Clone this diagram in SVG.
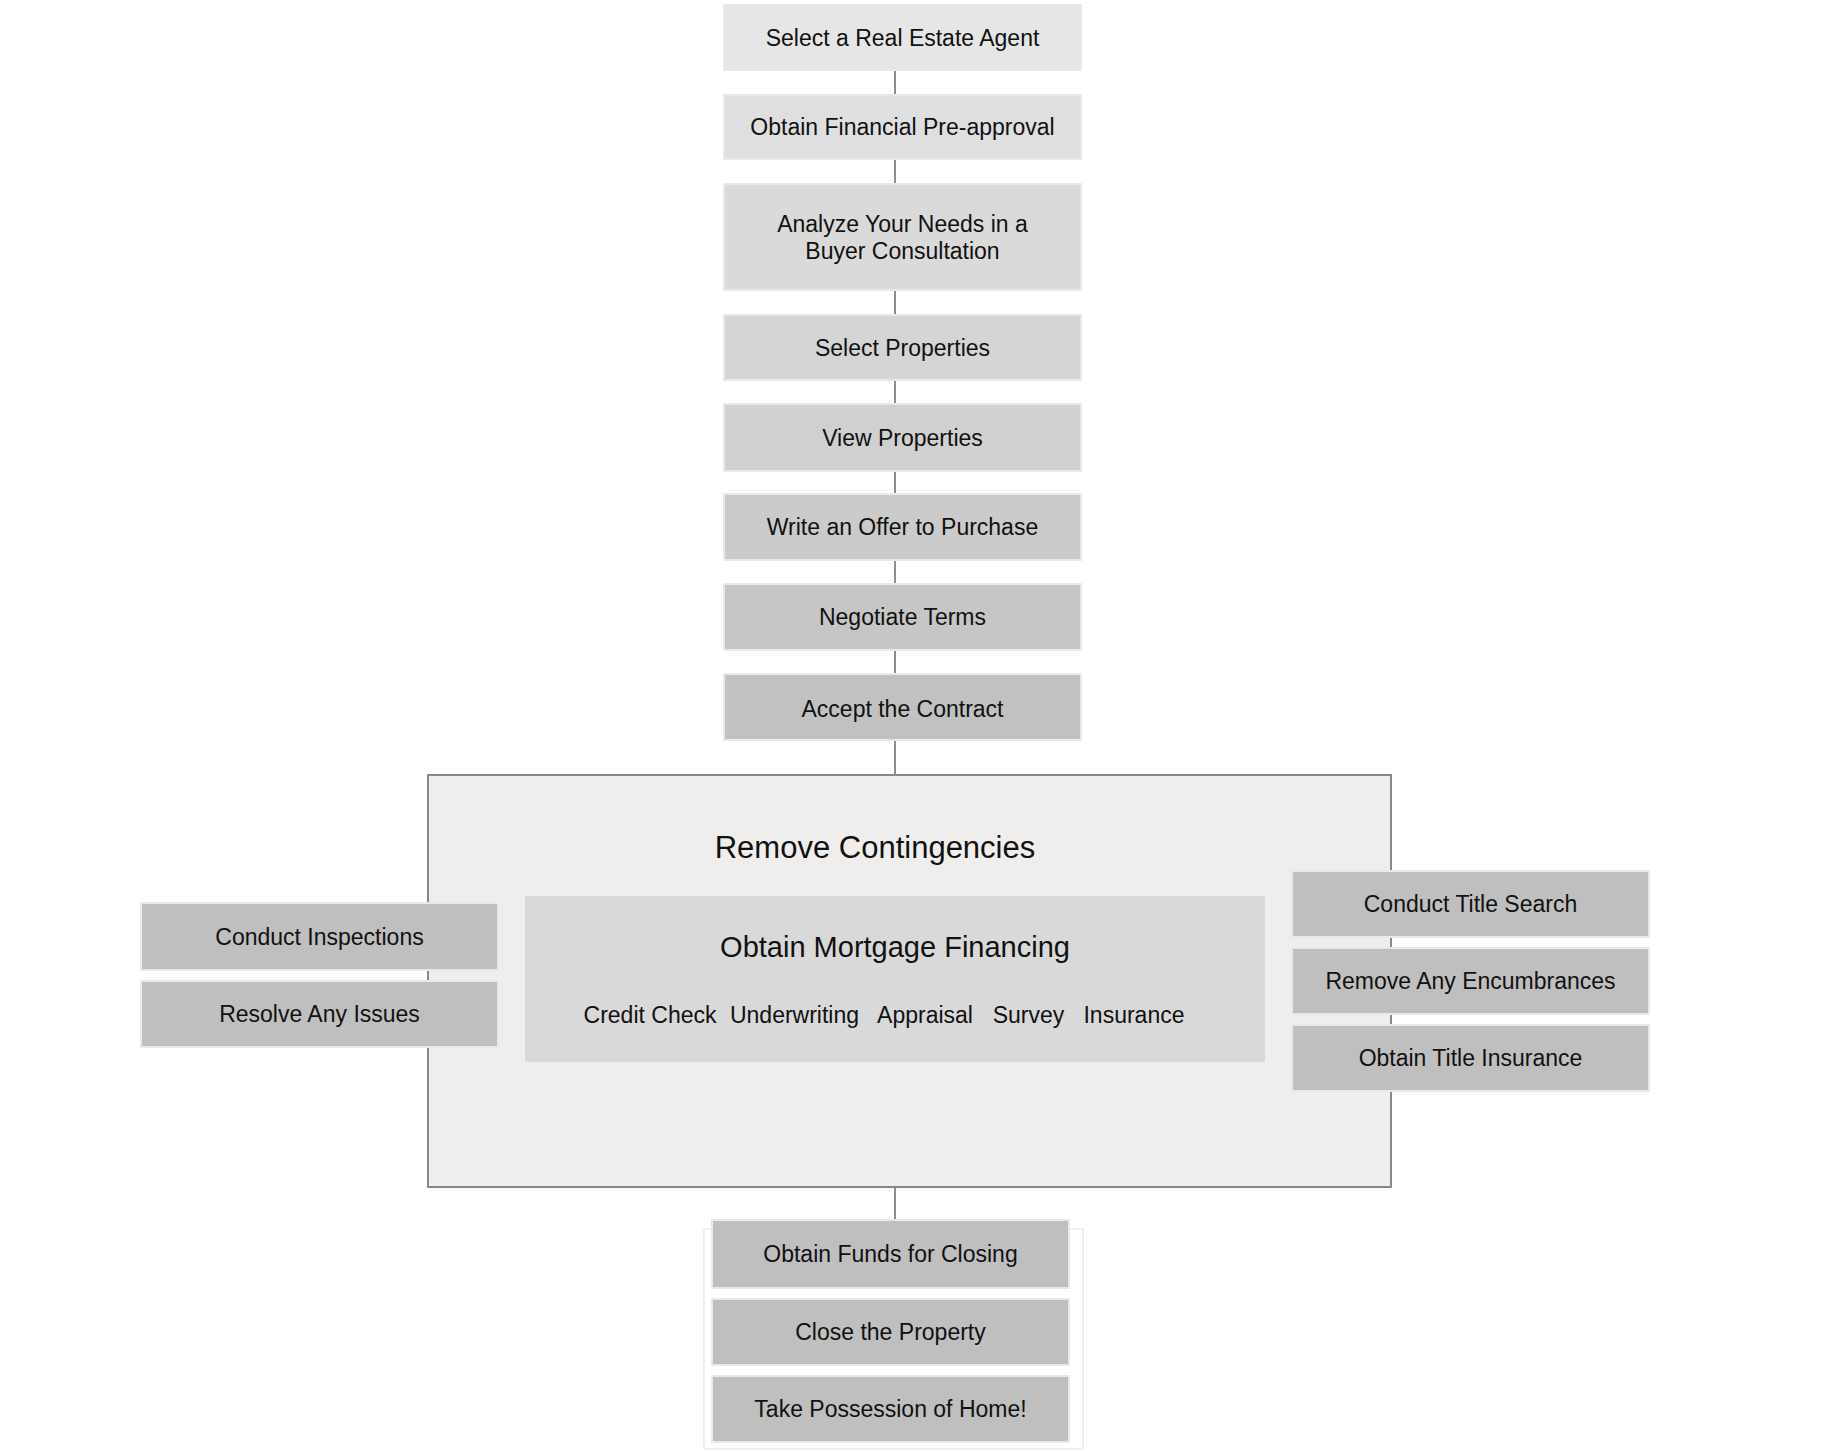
<svg xmlns="http://www.w3.org/2000/svg" width="1844" height="1452" viewBox="0 0 1844 1452">
<style>
.box{stroke:#e9e9e9;stroke-width:2}
.t{font-family:"Liberation Sans",Arial,sans-serif;font-size:23px;fill:#111;text-anchor:middle}
.big{font-family:"Liberation Sans",Arial,sans-serif;fill:#111;text-anchor:middle}
.conn{stroke:#8c8c8c;stroke-width:2;fill:none}
</style>
<rect width="1844" height="1452" fill="#ffffff"/>
<g id="connectors">
<path class="conn" d="M895 70V95M895 159V184M895 290V315M895 380V404M895 471V494M895 560V584M895 650V674M895 740V775M895 1187V1220"/>
</g>
<g id="container">
<rect x="428" y="775" width="963" height="412" fill="#efeeec" stroke="#888888" stroke-width="2"/>
<text class="big" x="875" y="858" font-size="31">Remove Contingencies</text>
</g>
<g id="mortgage">
<rect x="525" y="896" width="740" height="166" fill="#d9d9d9"/>
<text class="big" x="895" y="957" font-size="29">Obtain Mortgage Financing</text>
<text class="t" x="650" y="1023">Credit Check</text>
<text class="t" x="794.5" y="1023">Underwriting</text>
<text class="t" x="925" y="1023">Appraisal</text>
<text class="t" x="1028.5" y="1023">Survey</text>
<text class="t" x="1134" y="1023">Insurance</text>
</g>
<g id="n1"><rect class="box" x="724" y="5" width="357" height="65" fill="#e6e6e6"/><text class="t" x="902.5" y="45.5">Select a Real Estate Agent</text></g>
<g id="n2"><rect class="box" x="724" y="95" width="357" height="64" fill="#dfdfdf"/><text class="t" x="902.5" y="135">Obtain Financial Pre-approval</text></g>
<g id="n3"><rect class="box" x="724" y="184" width="357" height="106" fill="#dadada"/><text class="t" x="902.5" y="232">Analyze Your Needs in a</text><text class="t" x="902.5" y="259">Buyer Consultation</text></g>
<g id="n4"><rect class="box" x="724" y="315" width="357" height="65" fill="#d5d5d5"/><text class="t" x="902.5" y="355.5">Select Properties</text></g>
<g id="n5"><rect class="box" x="724" y="404" width="357" height="67" fill="#d0d0d0"/><text class="t" x="902.5" y="445.5">View Properties</text></g>
<g id="n6"><rect class="box" x="724" y="494" width="357" height="66" fill="#cbcbcb"/><text class="t" x="902.5" y="535">Write an Offer to Purchase</text></g>
<g id="n7"><rect class="box" x="724" y="584" width="357" height="66" fill="#c6c6c6"/><text class="t" x="902.5" y="625">Negotiate Terms</text></g>
<g id="n8"><rect class="box" x="724" y="674" width="357" height="66" fill="#c1c1c1"/><text class="t" x="902.5" y="717">Accept the Contract</text></g>
<g id="l1"><rect class="box" x="141" y="903" width="357" height="67" fill="#bfbfbf"/><text class="t" x="319.5" y="944.5">Conduct Inspections</text></g>
<g id="l2"><rect class="box" x="141" y="981" width="357" height="66" fill="#bfbfbf"/><text class="t" x="319.5" y="1022">Resolve Any Issues</text></g>
<g id="r1"><rect class="box" x="1292" y="871" width="357" height="66" fill="#bfbfbf"/><text class="t" x="1470.5" y="912">Conduct Title Search</text></g>
<g id="r2"><rect class="box" x="1292" y="948" width="357" height="66" fill="#bfbfbf"/><text class="t" x="1470.5" y="989">Remove Any Encumbrances</text></g>
<g id="r3"><rect class="box" x="1292" y="1025" width="357" height="66" fill="#bfbfbf"/><text class="t" x="1470.5" y="1066">Obtain Title Insurance</text></g>
<g id="closing">
<rect x="704" y="1229" width="379" height="220" fill="#ffffff" stroke="#ececec" stroke-width="1.5"/>
<g id="b1"><rect class="box" x="712" y="1220" width="357" height="68" fill="#bfbfbf"/><text class="t" x="890.5" y="1262">Obtain Funds for Closing</text></g>
<g id="b2"><rect class="box" x="712" y="1299" width="357" height="66" fill="#bfbfbf"/><text class="t" x="890.5" y="1340">Close the Property</text></g>
<g id="b3"><rect class="box" x="712" y="1376" width="357" height="66" fill="#bfbfbf"/><text class="t" x="890.5" y="1417">Take Possession of Home!</text></g>
</g>
</svg>
